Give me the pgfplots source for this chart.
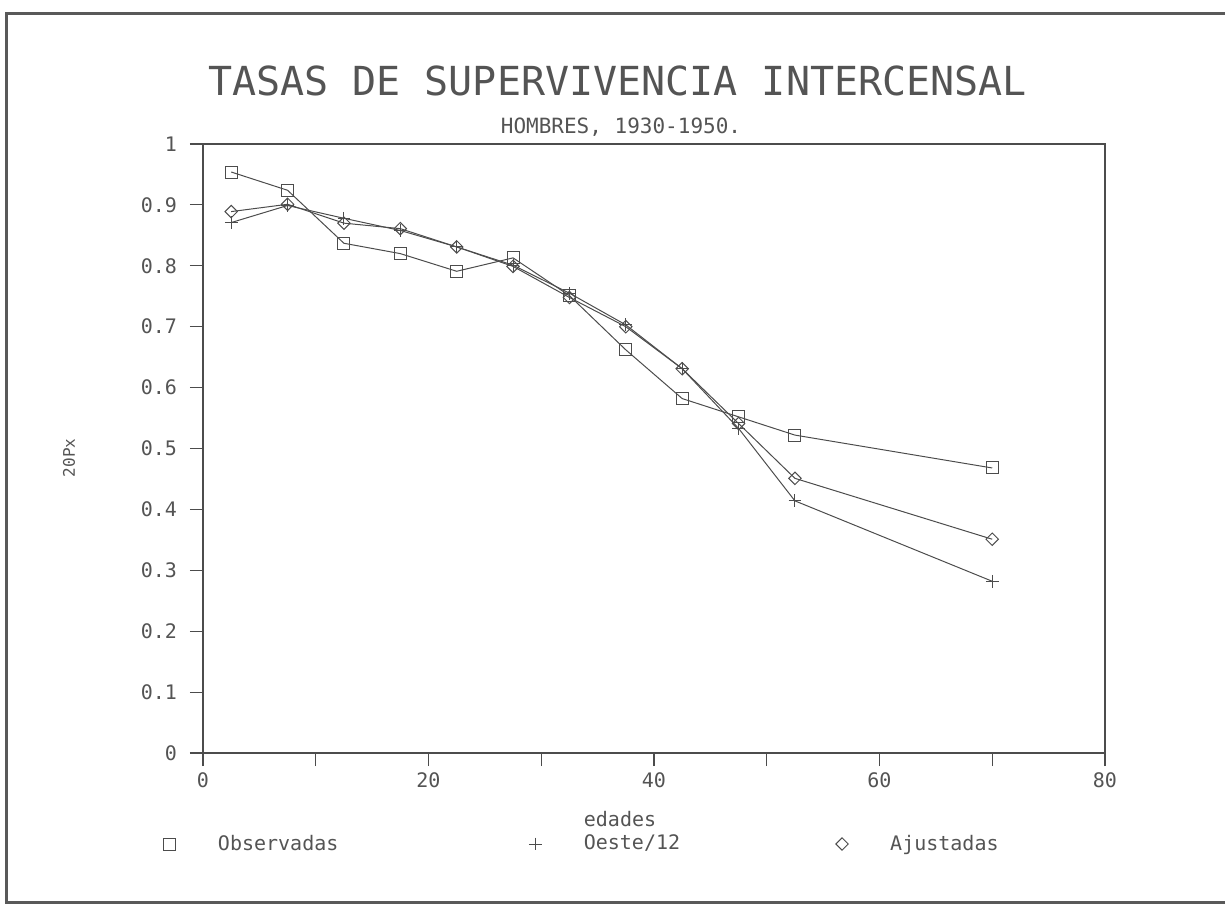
\documentclass[border=0pt]{standalone}
\usepackage{pgfplots}
\pgfplotsset{compat=1.18}
\usepackage{fontspec}
\setmainfont{DejaVu Sans Mono}
\definecolor{ink}{gray}{0.3}
\definecolor{txt}{gray}{0.33}

\begin{document}
\begin{tikzpicture}
\useasboundingbox (-101.5pt,-75.5pt) rectangle (511pt,376.5pt);
\draw[black!65, line width=1.5pt] (-98pt,-74.5pt) rectangle (600pt,369.5pt);
\begin{axis}[
  at={(0,0)}, anchor=south west,
  scale only axis, width=451pt, height=304.5pt,
  xmin=0, xmax=80, ymin=0, ymax=1,
  xtick={0,10,...,80}, xticklabels={0,,20,,40,,60,,80},
  ytick={0,0.1,0.2,0.3,0.4,0.5,0.6,0.7,0.8,0.9,1},
  yticklabels={0,0.1,0.2,0.3,0.4,0.5,0.6,0.7,0.8,0.9,1},
  tick pos=left, tick align=outside, major tick length=6.5pt,
  axis line style={ink, line width=0.6pt},
  every tick/.style={ink, line width=0.6pt},
  ticklabel style={font=\fontsize{10}{12}\selectfont, text=txt},
  yticklabel style={xshift=-3pt},
  /pgf/number format/assume math mode=true,
  clip=false,
  legend columns=3,
  legend cell align=left,
  legend image code/.code={\draw[#1] plot coordinates {(0pt,0pt)};},
  legend style={draw=none, fill=none, at={(0,0)}, anchor=west,
    xshift=-19.5pt, yshift=-45.5pt, inner sep=0pt, outer sep=0pt,
    font=\fontsize{10}{12}\selectfont, text=txt,
    nodes={inner sep=0pt, outer sep=0pt},
    /tikz/every odd column/.append style={column sep=21pt},
    /tikz/every even column/.append style={column sep=0pt}},
]
\addplot[ink, line width=0.5pt, mark=square, mark size=3pt, mark options={solid}]
coordinates {
(2.5,0.954) (7.5,0.924) (12.5,0.837) (17.5,0.820) (22.5,0.791) (27.5,0.813)
(32.5,0.751) (37.5,0.662) (42.5,0.582) (47.5,0.552) (52.5,0.522) (70,0.468)
};
\addlegendentry{\makebox[155.5pt][l]{Observadas}}
\addplot[ink, line width=0.5pt, mark=+, mark size=3.2pt, mark options={solid}]
coordinates {
(2.5,0.871) (7.5,0.899) (12.5,0.878) (17.5,0.858) (22.5,0.831) (27.5,0.801)
(32.5,0.755) (37.5,0.703) (42.5,0.631) (47.5,0.533) (52.5,0.414) (70,0.282)
};
\addlegendentry{\makebox[126pt][l]{Oeste/12}}
\addplot[ink, line width=0.5pt, mark=square, mark size=2.2pt, mark options={solid, rotate=45}]
coordinates {
(2.5,0.889) (7.5,0.901) (12.5,0.870) (17.5,0.861) (22.5,0.831) (27.5,0.799)
(32.5,0.748) (37.5,0.700) (42.5,0.631) (47.5,0.541) (52.5,0.451) (70,0.351)
};
\addlegendentry{Ajustadas}
\end{axis}
\node[text=txt, inner sep=0pt] at (207.25pt,336pt)
  {\fontsize{20}{24}\selectfont TASAS DE SUPERVIVENCIA INTERCENSAL};
\node[text=txt, inner sep=0pt, anchor=base] at (209pt,309.5pt)
  {\fontsize{10.5}{12}\selectfont HOMBRES, 1930-1950.};
\node[text=txt, inner sep=0pt, anchor=base] at (208.5pt,-37pt)
  {\fontsize{10}{12}\selectfont edades};
\node[text=txt, inner sep=0pt, rotate=90] at (-67pt,147.5pt)
  {\fontsize{8}{10}\selectfont 20Px};
\end{tikzpicture}
\end{document}
